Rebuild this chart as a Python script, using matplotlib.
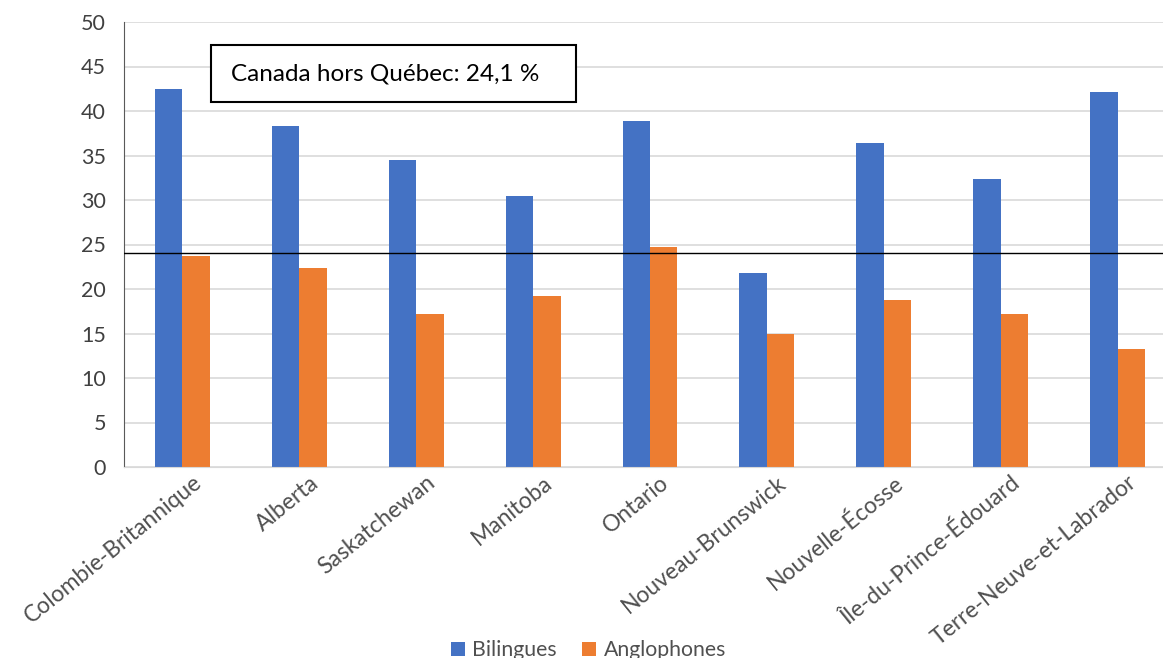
import matplotlib
matplotlib.use("Agg")
import matplotlib.pyplot as plt
import matplotlib.patches as mpatches
import matplotlib.transforms as mtransforms
import numpy as np

provinces = [
    "Colombie-Britannique", "Alberta", "Saskatchewan", "Manitoba", "Ontario",
    "Nouveau-Brunswick", "Nouvelle-Écosse", "Île-du-Prince-Édouard",
    "Terre-Neuve-et-Labrador",
]
bilingues = [42.5, 38.3, 34.5, 30.4, 38.9, 21.8, 36.4, 32.4, 42.1]
anglophones = [23.7, 22.4, 17.2, 19.2, 24.7, 14.9, 18.8, 17.2, 13.3]
canada_hors_quebec = 24.1
annotation = "Canada hors Québec: 24,1 %"
series_names = ["Bilingues", "Anglophones"]

BLUE = "#4472C4"
ORANGE = "#ED7D31"

plt.rcParams["font.family"] = ["Lato", "DejaVu Sans"]

W, H = 1163, 658
fig = plt.figure(figsize=(W / 100, H / 100), dpi=100)
ax = fig.add_axes([124 / W, 1 - 467 / H, 1052 / W, 445 / H])

x = np.arange(len(provinces))
w = 0.235
ax.bar(x, bilingues, width=-w, align="edge", color=BLUE, label=series_names[0], zorder=2)
ax.bar(x, anglophones, width=w, align="edge", color=ORANGE, label=series_names[1], zorder=2)
ax.axhline(canada_hors_quebec, color="black", linewidth=1, zorder=3)

ax.set_xlim(-0.5, len(provinces) - 0.5)
ax.set_ylim(0, 50)
ax.set_yticks(np.arange(0, 51, 5))
ax.yaxis.grid(True, color="#d9d9d9", linewidth=1.2, zorder=0)
ax.set_axisbelow(True)
for s in ["top", "right"]:
    ax.spines[s].set_visible(False)
ax.spines["left"].set_color("#595959")
ax.spines["bottom"].set_color("#d9d9d9")
ax.tick_params(axis="both", length=0, colors="#404040")
ax.tick_params(axis="y", pad=13, labelsize=15.5)
ax.tick_params(axis="x", labelsize=16.5, colors="#505050")

ax.set_xticks(x)
ax.set_xticklabels(provinces, rotation=39, ha="right", va="top", rotation_mode="anchor")
offset = mtransforms.ScaledTranslation(10 / 100, 0, fig.dpi_scale_trans)
for lbl in ax.get_xticklabels():
    lbl.set_transform(lbl.get_transform() + offset)

# annotation box
fig.patches.append(mpatches.Rectangle((211 / W, 1 - 102 / H), 365 / W, 57 / H,
                                      transform=fig.transFigure, facecolor="white",
                                      edgecolor="black", linewidth=1.5, zorder=5))
fig.text(231 / W, 1 - 74 / H, annotation, fontsize=17.5, va="center", ha="left",
         color="black", zorder=6)

fig.legend(loc="center", bbox_to_anchor=(0.506, 0.012), ncol=2, frameon=False,
           fontsize=15.3, handlelength=0.65, handleheight=0.65, handletextpad=0.35,
           columnspacing=1.2, labelcolor="#505050")

fig.savefig("out.png", dpi=100)
